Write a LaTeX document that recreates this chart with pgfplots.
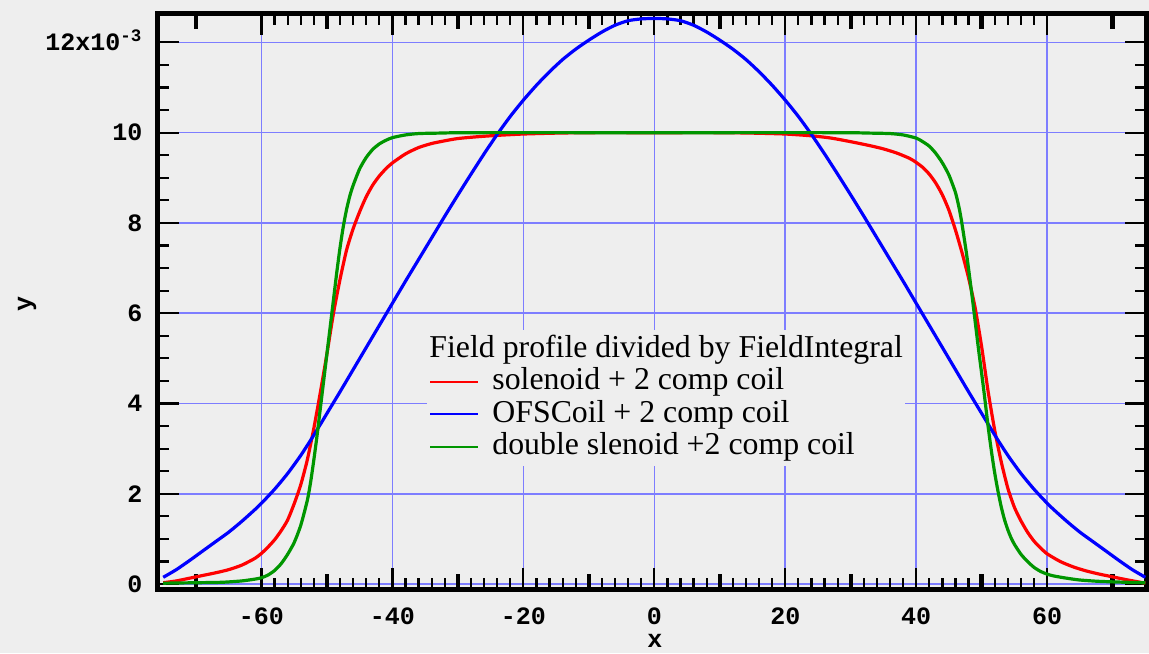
\documentclass[border=0pt]{standalone}
\usepackage{fontspec}
\setmainfont{Liberation Serif}
\newfontfamily\monofont{Liberation Mono}
\usepackage{pgfplots}
\pgfplotsset{compat=1.18}
\definecolor{bg}{RGB}{238,238,238}
\definecolor{gridblue}{RGB}{125,125,255}
\definecolor{pgreen}{RGB}{0,150,0}
\newcommand{\tickfont}{\monofont\bfseries\fontsize{12.5}{14}\selectfont}
\begin{document}
\begin{tikzpicture}
\fill[bg] (-79pt,-31.75pt) rectangle (495.5pt,294.75pt);
\begin{axis}[
  at={(0pt,0pt)}, anchor=south west,
  scale only axis, width=494pt, height=288pt,
  xmin=-75.8, xmax=75.1, ymin=-0.12, ymax=12.64,
  axis line style={line width=2.5pt, black},
  tick align=inside,
  xtick={-60,-40,...,60}, xticklabels={-60,-40,-20,0,20,40,60},
  ytick={0,2,...,12}, yticklabels={0,2,4,6,8,10,{12x10\smash{\textsuperscript{-3}}}},
  minor x tick num=9, minor y tick num=3,
  major tick length=10.7pt, minor tick length=5.7pt,
  every tick/.style={line width=1.1pt, black},
  extra x ticks={-70,-50,-30,-10,10,30,50,70},
  extra x tick labels={},
  extra x tick style={grid=none, major tick length=8pt, every major tick/.style={line width=2.2pt, black}},
  grid=major,
  major grid style={gridblue, line width=0.8pt},
  ticklabel style={font=\tickfont},
  xticklabel style={yshift=-5.5pt},
  yticklabel style={xshift=-4.3pt},
  xlabel={x}, ylabel={y},
  xlabel style={font=\tickfont, at={(axis description cs:0.503,0)}, anchor=center, yshift=-25.75pt},
  ylabel style={font=\tickfont, at={(axis description cs:0,0.495)}, anchor=center, yshift=65.5pt},
  legend style={draw=none, fill=bg, at={(axis description cs:0.2723,0.4505)}, anchor=north west,
    font=\fontsize{15.9}{16.2}\selectfont, inner xsep=1pt, inner ysep=2pt,
    row sep=1.2pt, column sep=6.5pt,
    nodes={inner sep=0pt, text height=11.5pt, text depth=3.5pt}},
  legend cell align=left,
  legend image code/.code={\draw[#1, line width=1pt] (0pt,0pt) -- (24pt,0pt);},
  every axis plot/.append style={line width=1.6pt, smooth, tension=0.4},
]
\addlegendimage{empty legend}
\addlegendentry{\hspace{-31.5pt}Field profile divided by FieldIntegral}

\addplot[red] coordinates {
(-75,0.03) (-73,0.07) (-71,0.13) (-69,0.19) (-67,0.25) (-65,0.32) (-63,0.42) (-61,0.57) (-60,0.68) (-59,0.82) (-58,0.98) (-57,1.18) (-56,1.42) (-55,1.78) (-54,2.2) (-53,2.75) (-52,3.45) (-51,4.25) (-50,5.1) (-49,6.0) (-48,6.75) (-47,7.4) (-46,7.87) (-45,8.25) (-44,8.58) (-43,8.84) (-42,9.04) (-41,9.2) (-40,9.33) (-38,9.53) (-36,9.67) (-34,9.76) (-32,9.82) (-30,9.87) (-27,9.91) (-24,9.94) (-20,9.97) (-15,9.99) (-10,10.0) (0,10.0) (10,10.0) (15,9.99) (20,9.97) (24,9.93) (27,9.88) (30,9.8) (33,9.71) (35,9.64) (37,9.55) (39,9.43) (40,9.34) (41,9.23) (42,9.08) (43,8.88) (44,8.62) (45,8.28) (46,7.84) (47,7.34) (48,6.78) (49,6.12) (50,5.25) (51,4.25) (52,3.4) (53,2.7) (54,2.12) (55,1.7) (56,1.4) (57,1.15) (58,0.95) (59,0.8) (60,0.67) (62,0.5) (64,0.38) (66,0.29) (68,0.22) (70,0.16) (72,0.1) (75,0.02)
};
\addlegendentry{solenoid + 2 comp coil}

\addplot[blue] coordinates {
(-75,0.15) (-73,0.32) (-71,0.52) (-69,0.73) (-67,0.94) (-65,1.15) (-63,1.39) (-61,1.65) (-60,1.79) (-58,2.1) (-56,2.45) (-54,2.85) (-52,3.3) (-50,3.78) (-48,4.26) (-46,4.75) (-44,5.24) (-42,5.73) (-40,6.22) (-38,6.71) (-36,7.19) (-34,7.67) (-32,8.15) (-30,8.62) (-28,9.08) (-26,9.53) (-24,9.96) (-22,10.36) (-20,10.72) (-18,11.05) (-16,11.35) (-14,11.62) (-12,11.85) (-10,12.05) (-8,12.23) (-6,12.38) (-4,12.48) (-2,12.52) (0,12.53)
(2,12.52) (4,12.48) (6,12.38) (8,12.23) (10,12.05) (12,11.85) (14,11.62) (16,11.35) (18,11.05) (20,10.72) (22,10.36) (24,9.96) (26,9.53) (28,9.08) (30,8.62) (32,8.15) (34,7.67) (36,7.19) (38,6.71) (40,6.22) (42,5.73) (44,5.24) (46,4.75) (48,4.26) (50,3.78) (52,3.3) (54,2.85) (56,2.45) (58,2.1) (60,1.79) (61,1.65) (63,1.39) (65,1.15) (67,0.94) (69,0.73) (71,0.52) (73,0.32) (75,0.15)
};
\addlegendentry{OFSCoil + 2 comp coil}

\addplot[pgreen] coordinates {
(-75,0.02) (-70,0.03) (-66,0.04) (-63,0.07) (-61,0.11) (-60,0.14) (-59,0.2) (-58,0.3) (-57,0.45) (-56,0.66) (-55,0.92) (-54,1.3) (-53,1.85) (-52.5,2.25) (-52,2.75) (-51.5,3.3) (-51,3.9) (-50.5,4.5) (-50,5.1) (-49.5,5.7) (-49,6.3) (-48.5,6.9) (-48,7.45) (-47.5,7.92) (-47,8.3) (-46.5,8.6) (-46,8.83) (-45,9.2) (-44,9.45) (-43,9.63) (-42,9.75) (-41,9.83) (-40,9.89) (-38,9.95) (-36,9.98) (-33,9.99) (-28,10.0) (0,10.0)
(28,10.0) (33,9.99) (36,9.98) (38,9.95) (40,9.88) (41,9.8) (42,9.7) (43,9.54) (44,9.33) (45,9.06) (46,8.67) (46.6,8.3) (47,7.97) (47.6,7.4) (48,6.98) (48.6,6.3) (49,5.82) (49.5,5.22) (50,4.66) (50.5,4.08) (51,3.47) (51.5,2.93) (52,2.45) (52.5,2.05) (53,1.7) (53.5,1.42) (54,1.2) (54.5,1.02) (55,0.88) (56,0.66) (57,0.5) (58,0.37) (59,0.28) (60,0.22) (61,0.18) (63,0.13) (65,0.09) (68,0.06) (72,0.04) (75,0.03)
};
\addlegendentry{double slenoid +2 comp coil}
\end{axis}
\pgfresetboundingbox
\path[use as bounding box] (-79pt,-31.75pt) rectangle (495.5pt,294.75pt);
\end{tikzpicture}
\end{document}
